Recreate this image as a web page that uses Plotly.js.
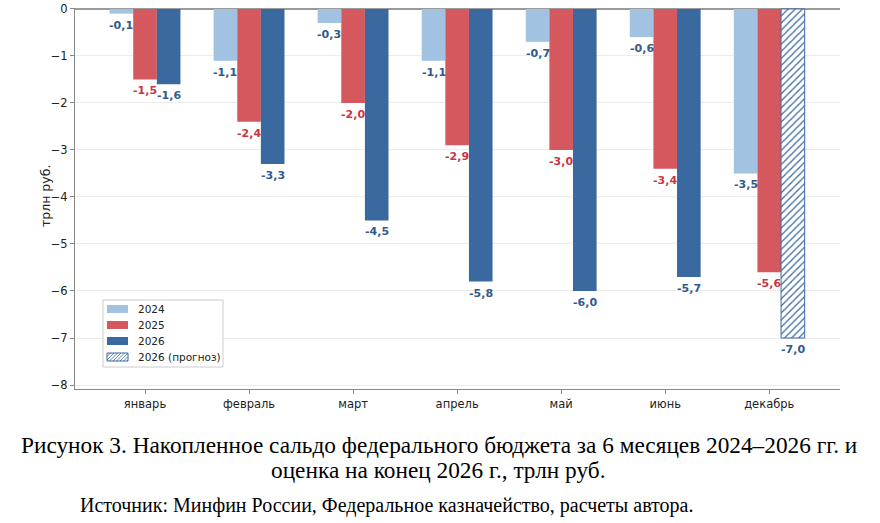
<!DOCTYPE html>
<html>
<head>
<meta charset="utf-8">
<script src="https://cdn.plot.ly/plotly-3.0.1.min.js"></script>
<style>
  html, body { margin: 0; padding: 0; background: #fff; }
  #chart { width: 880px; height: 523px; }
</style>
</head>
<body>
<div id="chart"></div>
<script>
// months and cumulative balance, trillion rubles
const months = ['январь', 'февраль', 'март', 'апрель', 'май', 'июнь', 'декабрь'];
const y2024 = [-0.1, -1.1, -0.3, -1.1, -0.7, -0.6, -3.5];
const y2025 = [-1.5, -2.4, -2.0, -2.9, -3.0, -3.4, -5.6];
const y2026 = [-1.6, -3.3, -4.5, -5.8, -6.0, -5.7, null];
const y2026f = [null, null, null, null, null, null, -7.0];
const seriesNames = ['2024', '2025', '2026', '2026 (прогноз)'];

const C24 = '#a2c2e1', C25 = '#d6585f', C26 = '#3a69a0';
const T_BLUE = '#2f5b8e', T_RED = '#c9363f';

const fmt = v => v.toFixed(1).replace('.', ',');

const W = 0.227;
const offsets = [-1.5 * W, -0.5 * W, 0.5 * W, 0.5 * W];

function barTrace(name, y, off, color, extra) {
  return Object.assign({
    type: 'bar', name, x: months, y,
    width: W, offset: off,
    marker: { color, line: { width: 0 } },
    hoverinfo: 'y', showlegend: false
  }, extra || {});
}

const data = [
  barTrace(seriesNames[0], y2024, offsets[0], C24),
  barTrace(seriesNames[1], y2025, offsets[1], C25),
  barTrace(seriesNames[2], y2026, offsets[2], C26),
  barTrace(seriesNames[3], y2026f, offsets[3], '#ffffff', {
    marker: {
      color: '#ffffff',
      line: { color: C26, width: 1 },
      pattern: { shape: '/', fgcolor: C26, bgcolor: '#ffffff', size: 5, solidity: 0.25 }
    }
  })
];

const anns = [];
// value labels under each bar end
[[y2024, T_BLUE], [y2025, T_RED], [y2026, T_BLUE], [y2026f, T_BLUE]].forEach(([ys, col], s) => {
  ys.forEach((v, i) => {
    if (v === null) return;
    anns.push({ xref: 'x', yref: 'y', x: i + offsets[s] + W / 2, y: v, yshift: -11.5,
      xanchor: 'center', yanchor: 'middle', showarrow: false, text: fmt(v),
      font: { family: 'DejaVu Sans', size: 11, color: col, weight: 'bold' } });
  });
});

// legend drawn by hand (matplotlib-like compact box)
const L = 75, R = 840, T = 8, B = 389;
const px = x => (x - L) / (R - L);
const py = y => (B - y) / (B - T);
const shapes = [];
shapes.push({ type: 'rect', xref: 'paper', yref: 'paper', x0: px(103), x1: px(223), y0: py(300), y1: py(367),
  fillcolor: 'rgba(255,255,255,0.9)', line: { color: '#cccccc', width: 1 }, layer: 'above' });
const swCols = [C24, C25, C26, null];
const rowY = [309, 325, 341, 357];
rowY.forEach((yy, i) => {
  const x0 = 107, x1 = 128, top = yy - 4, bot = yy + 4;
  if (swCols[i]) {
    shapes.push({ type: 'rect', xref: 'paper', yref: 'paper', x0: px(x0), x1: px(x1), y0: py(bot), y1: py(top),
      fillcolor: swCols[i], line: { width: 0 }, layer: 'above' });
  } else {
    shapes.push({ type: 'rect', xref: 'paper', yref: 'paper', x0: px(x0), x1: px(x1), y0: py(bot), y1: py(top),
      fillcolor: '#ffffff', line: { color: C26, width: 1 }, layer: 'above' });
    let path = '';
    const h = bot - top;
    for (let k = x0 - h; k < x1; k += 3.5) {
      const t0 = Math.max(0, (x0 - k) / h), t1 = Math.min(1, (x1 - k) / h);
      if (t1 <= t0) continue;
      path += `M${px(k + t0 * h)},${py(bot - t0 * h)} L${px(k + t1 * h)},${py(bot - t1 * h)} `;
    }
    shapes.push({ type: 'path', xref: 'paper', yref: 'paper', path, line: { color: C26, width: 0.8 }, layer: 'above' });
  }
  anns.push({ xref: 'paper', yref: 'paper', x: px(136), y: py(yy), xanchor: 'left', yanchor: 'middle',
    showarrow: false, text: seriesNames[i], font: { family: 'DejaVu Sans', size: 10.5, color: '#222' } });
});

anns.push(
  { xref: 'paper', yref: 'paper', x: px(45), y: py(196), xanchor: 'center', yanchor: 'middle', showarrow: false,
    textangle: -90, text: 'трлн руб.', font: { family: 'DejaVu Sans', size: 12.5, color: '#222' } },
  { xref: 'paper', yref: 'paper', x: px(438.5), y: py(445), xanchor: 'center', yanchor: 'middle', showarrow: false,
    text: 'Рисунок 3. Накопленное сальдо федерального бюджета за 6 месяцев 2024–2026 гг. и',
    font: { family: 'Liberation Serif', size: 23.3, color: '#000' } },
  { xref: 'paper', yref: 'paper', x: px(438), y: py(470), xanchor: 'center', yanchor: 'middle', showarrow: false,
    text: 'оценка на конец 2026 г., трлн руб.',
    font: { family: 'Liberation Serif', size: 23.3, color: '#000' } },
  { xref: 'paper', yref: 'paper', x: px(78), y: py(505), xanchor: 'left', yanchor: 'middle', showarrow: false,
    text: 'Источник: Минфин России, Федеральное казначейство, расчеты автора.',
    font: { family: 'Liberation Serif', size: 20, color: '#000' } }
);

const layout = {
  width: 880, height: 523,
  margin: { l: L, r: 880 - R, t: T, b: 523 - B },
  paper_bgcolor: '#fff', plot_bgcolor: '#fff',
  barmode: 'overlay',
  font: { family: 'DejaVu Sans', size: 11, color: '#222' },
  showlegend: false,
  xaxis: {
    range: [-0.673, 6.68], showgrid: false,
    showline: true, linecolor: '#888', linewidth: 1,
    ticks: 'outside', ticklen: 4, tickcolor: '#888',
    tickfont: { size: 11.5 }, zeroline: false, fixedrange: true
  },
  yaxis: {
    range: [-8.085, 0.02], dtick: 1, tick0: 0,
    showgrid: true, gridcolor: '#ebebeb', gridwidth: 1,
    zeroline: true, zerolinecolor: '#9a9a9a', zerolinewidth: 1.2,
    showline: true, linecolor: '#888', linewidth: 1,
    ticks: 'outside', ticklen: 4, tickcolor: '#888',
    tickfont: { size: 11.5 },
    fixedrange: true
  },
  shapes,
  annotations: anns
};

Plotly.newPlot('chart', data, layout, { displayModeBar: false, staticPlot: true });
</script>
</body>
</html>
